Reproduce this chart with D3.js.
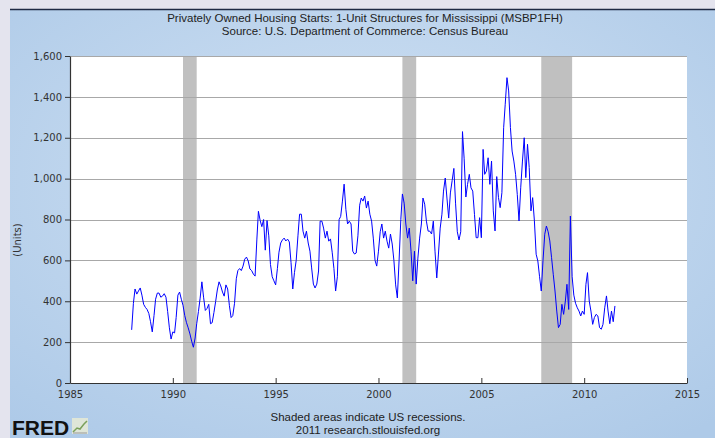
<!DOCTYPE html>
<html><head><meta charset="utf-8">
<script src="https://cdn.jsdelivr.net/npm/d3@7"></script>
<style>html,body{margin:0;padding:0;background:#e4e4ee;} svg{display:block}</style>
</head><body>
<svg id="c" width="715" height="438"></svg>
<script>
const titleLines = [
  "Privately Owned Housing Starts: 1-Unit Structures for Mississippi (MSBP1FH)",
  "Source: U.S. Department of Commerce: Census Bureau"
];
const footerLines = ["Shaded areas indicate US recessions.", "2011 research.stlouisfed.org"];
const yAxisLabel = "(Units)";

// Monthly values, starting January 1988
const startYear = 1988;
const values = [
  260, 390, 460, 435, 450, 465, 430, 385, 370, 360, 340, 300,   // 1988
  250, 330, 410, 440, 440, 420, 425, 437, 420, 350, 270, 215,   // 1989
  250, 245, 320, 430, 445, 410, 380, 330, 295, 270, 240, 205,   // 1990
  175, 220, 290, 350, 415, 495, 420, 355, 365, 385, 290, 295,   // 1991
  345, 400, 455, 495, 475, 445, 425, 480, 460, 380, 320, 330,   // 1992
  390, 510, 550, 560, 550, 572, 606, 616, 597, 558, 550, 533,   // 1993
  523, 700, 840, 795, 765, 800, 650, 795, 720, 580, 520, 500,   // 1994
  480, 560, 640, 685, 700, 709, 695, 704, 690, 590, 460, 540,   // 1995
  600, 720, 826, 826, 743, 709, 743, 685, 645, 563, 484, 465,   // 1996
  484, 548, 792, 792, 758, 709, 743, 694, 705, 640, 560, 450,   // 1997
  520, 800, 815, 890, 973, 850, 778, 792, 778, 645, 631, 636,   // 1998
  720, 870, 905, 890, 915, 856, 890, 826, 792, 709, 600, 572,   // 1999
  645, 740, 778, 709, 743, 694, 660, 729, 680, 600, 480, 416,   // 2000
  600, 800, 925, 880, 778, 709, 758, 645, 500, 645, 484, 611,   // 2001
  709, 778, 905, 875, 792, 743, 743, 729, 792, 645, 514, 631,   // 2002
  758, 826, 939, 1003, 905, 807, 930, 990, 1050, 880, 740, 700, // 2003
  740, 1230, 1100, 910, 972, 1021, 955, 939, 825, 711, 711, 809, // 2004
  711, 1143, 1021, 1037, 1102, 972, 1086, 842, 744, 1010, 907, 858, // 2005
  931, 1249, 1364, 1494, 1429, 1250, 1135, 1086, 1021, 923, 793, 955, // 2006
  1086, 1200, 1005, 1168, 1054, 842, 907, 793, 630, 597, 520, 450, // 2007
  600, 728, 768, 740, 695, 613, 532, 450, 352, 271, 287, 385,   // 2008
  336, 401, 483, 360, 817, 520, 430, 390, 368, 352, 328, 352,   // 2009
  336, 483, 540, 401, 352, 287, 320, 336, 328, 271, 263, 287,   // 2010
  368, 426, 352, 290, 352, 300, 377                              // 2011
];

const recessions = [
  ["1990-07-01", "1991-03-01"],
  ["2001-03-01", "2001-11-01"],
  ["2007-12-01", "2009-06-01"]
];
const xTickYears = [1985, 1990, 1995, 2000, 2005, 2010, 2015];
const yTicks = [0, 200, 400, 600, 800, 1000, 1200, 1400, 1600];

const W = 715, H = 438;
const svg = d3.select("#c");
const defs = svg.append("defs");
const g = defs.append("radialGradient").attr("id", "bg")
  .attr("cx", "50%").attr("cy", "40%").attr("r", "75%");
g.append("stop").attr("offset", "0%").attr("stop-color", "#d0e1f3");
g.append("stop").attr("offset", "100%").attr("stop-color", "#aecae8");

svg.append("rect").attr("width", W).attr("height", H).attr("fill", "#e4e4ee");
svg.append("rect").attr("x", 10).attr("y", 9).attr("width", W - 10).attr("height", H - 9).attr("fill", "url(#bg)");
svg.append("line").attr("x1", 10).attr("x2", W).attr("y1", 9.5).attr("y2", 9.5)
  .attr("stroke", "#1e2a44").attr("stroke-width", 1.5);

const m = {left: 70, right: 687, top: 56, bottom: 383};
const x = d3.scaleTime().domain([new Date(1985, 0, 1), new Date(2015, 0, 1)]).range([m.left, m.right]);
const y = d3.scaleLinear().domain([0, 1600]).range([m.bottom, m.top]);

svg.append("rect").attr("x", m.left).attr("y", m.top)
  .attr("width", m.right - m.left).attr("height", m.bottom - m.top).attr("fill", "#ffffff");

const parse = d3.timeParse("%Y-%m-%d");
svg.append("g").selectAll("rect").data(recessions).join("rect")
  .attr("x", d => x(parse(d[0])))
  .attr("width", d => x(parse(d[1])) - x(parse(d[0])))
  .attr("y", m.top).attr("height", m.bottom - m.top)
  .attr("fill", "#c0c0c0");

svg.append("g").selectAll("line").data(yTicks.filter(v => v > 0)).join("line")
  .attr("x1", m.left).attr("x2", m.right)
  .attr("y1", d => Math.round(y(d)) + 0.5).attr("y2", d => Math.round(y(d)) + 0.5)
  .attr("stroke", "#a8a8a8").attr("stroke-width", 1);

const series = values.map((v, i) => ({date: new Date(startYear, i, 1), value: v}));
svg.append("path").datum(series)
  .attr("fill", "none").attr("stroke", "#0000ff").attr("stroke-width", 1)
  .attr("stroke-linejoin", "round")
  .attr("d", d3.line().x(d => x(d.date)).y(d => y(d.value)));

const font = "'DejaVu Sans', Verdana, sans-serif";
const yAxis = svg.append("g").attr("transform", `translate(${m.left},0)`)
  .call(d3.axisLeft(y).tickValues(yTicks).tickFormat(d3.format(",")).tickSizeInner(5).tickSizeOuter(0).tickPadding(3));
const xAxis = svg.append("g").attr("transform", `translate(0,${m.bottom})`)
  .call(d3.axisBottom(x).tickValues(xTickYears.map(yr => new Date(yr, 0, 1)))
    .tickFormat(d3.timeFormat("%Y")).tickSizeInner(-5).tickSizeOuter(0).tickPadding(8));
[yAxis, xAxis].forEach(a => {
  a.selectAll("path").attr("stroke", "#333").attr("stroke-width", 1.2);
  a.selectAll("line").attr("stroke", "#333");
  a.selectAll("text").attr("fill", "#333").style("font-family", font).style("font-size", "10px");
});

svg.append("text").attr("transform", `translate(21,240) rotate(-90)`)
  .attr("text-anchor", "middle").style("font-family", font).style("font-size", "10px")
  .attr("fill", "#333").text(yAxisLabel);

const tfont = "'Liberation Sans', Arial, sans-serif";
svg.append("g").selectAll("text").data(titleLines).join("text")
  .attr("x", 365).attr("y", (d, i) => 22 + i * 13)
  .attr("text-anchor", "middle").style("font-family", tfont).style("font-size", "11.5px")
  .attr("fill", "#222").text(d => d);

svg.append("g").selectAll("text").data(footerLines).join("text")
  .attr("x", 368).attr("y", (d, i) => 421 + i * 13)
  .attr("text-anchor", "middle").style("font-family", tfont).style("font-size", "11.5px")
  .attr("fill", "#222").text(d => d);

// FRED logo
svg.append("text").attr("x", 12).attr("y", 435)
  .style("font-family", tfont).style("font-size", "21px").style("font-weight", "bold")
  .attr("fill", "#111").text("FRED");
const logo = svg.append("g").attr("transform", "translate(72,418)");
logo.append("rect").attr("width", 16).attr("height", 16).attr("fill", "#dfe6d8");
logo.append("path").attr("d", "M1,14 L5,10 L8,11 L12,6 L15,3").attr("fill", "none")
  .attr("stroke", "#7aa05a").attr("stroke-width", 1.5);
logo.append("path").attr("d", "M1,15 L15,15").attr("stroke", "#999").attr("stroke-width", 1);
</script>
</body></html>
